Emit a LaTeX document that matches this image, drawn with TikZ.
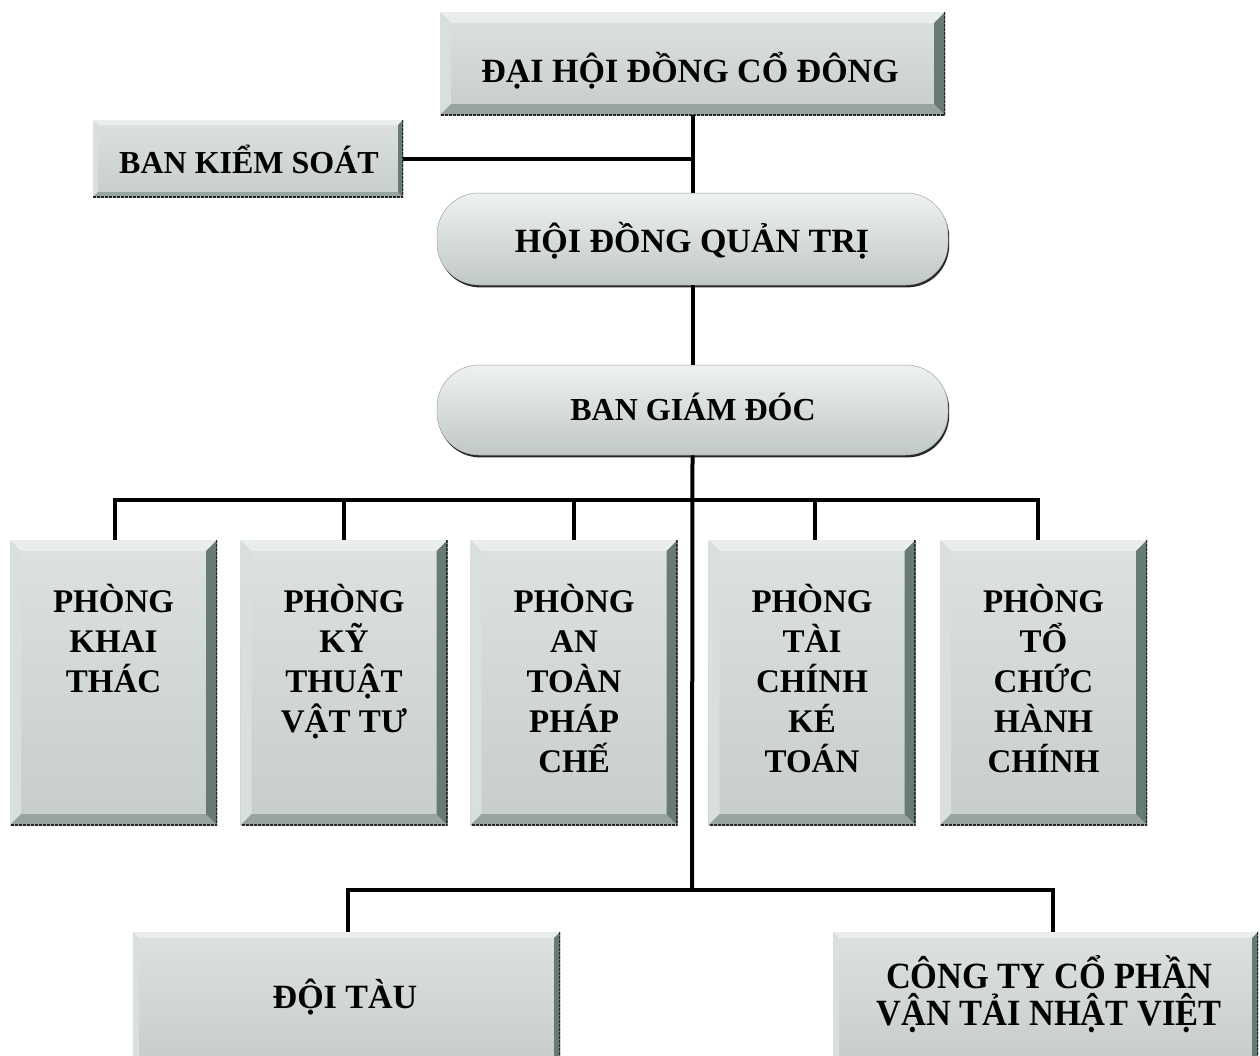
\documentclass[tikz,border=0pt]{standalone}
\usepackage{fontspec}
\setmainfont{Liberation Serif}
\usetikzlibrary{shadows}
\definecolor{bxtop}{HTML}{DDE2E1}
\definecolor{bxbot}{HTML}{C6CDCC}
\definecolor{bvT}{HTML}{E9EDEC}
\definecolor{bvL}{HTML}{D9DFDE}
\definecolor{bvR}{HTML}{687A76}
\definecolor{bvB}{HTML}{97A4A1}
\definecolor{pltop}{HTML}{EEF1F1}
\definecolor{plbot}{HTML}{C0C8C7}
\tikzset{
  bevbox/.style={rectangle, inner sep=0pt, draw=none, top color=bxtop, bottom color=bxbot,
    path picture={
      \coordinate (pnw) at (path picture bounding box.north west);
      \coordinate (pne) at (path picture bounding box.north east);
      \coordinate (psw) at (path picture bounding box.south west);
      \coordinate (pse) at (path picture bounding box.south east);
      \fill[bvT] (pnw) -- (pne) -- ([xshift=-#1,yshift=-#1]pne) -- ([xshift=#1,yshift=-#1]pnw) -- cycle;
      \fill[bvL] (pnw) -- (psw) -- ([xshift=#1,yshift=#1]psw) -- ([xshift=#1,yshift=-#1]pnw) -- cycle;
      \fill[bvB] (psw) -- (pse) -- ([xshift=-#1,yshift=#1]pse) -- ([xshift=#1,yshift=#1]psw) -- cycle;
      \fill[bvR] (pne) -- (pse) -- ([xshift=-#1,yshift=#1]pse) -- ([xshift=-#1,yshift=-#1]pne) -- cycle;
      \draw[black!85, line width=3pt, densely dotted] (pne) -- (pse) -- (psw);
    }},
  bevbox/.default=11pt,
  pill/.style={rectangle, rounded corners=42pt, inner sep=0pt, top color=pltop, bottom color=plbot,
    draw=black!35, line width=0.5pt,
    drop shadow={shadow xshift=1.2pt, shadow yshift=-2.4pt, opacity=1, fill=black!85}},
  txt/.style={inner sep=0pt, font=\bfseries\fontsize{33}{40}\selectfont, align=center, text=black},
  conn/.style={line width=4pt, black},
  dept/.style={bevbox, minimum width=207pt, minimum height=285pt}
}
\begin{document}
\begin{tikzpicture}[x=1pt,y=-1pt]
\fill[white] (0,0) rectangle (1260,1055);
\useasboundingbox (0,0) rectangle (1260,1055);

% top
\node[bevbox, minimum width=505pt, minimum height=103pt] (dh) at (692.5,63.5) {};
\node[txt, anchor=base, font=\bfseries\fontsize{34}{40}\selectfont] (dht) at (690,82) {ĐẠI HỘI ĐỒNG CỔ ĐÔNG};

\node[bevbox=5pt, minimum width=310pt, minimum height=77pt] (bks) at (248,158.5) {};
\node[txt, anchor=base, font=\bfseries\fontsize{32}{38}\selectfont] (bkst) at (249,173) {BAN KIỂM SOÁT};

\node[pill, minimum width=511pt, minimum height=92pt] (hd) at (692.5,239) {};
\node[txt, anchor=base, font=\bfseries\fontsize{34}{40}\selectfont] (hdt) at (692,252) {HỘI ĐỒNG QUẢN TRỊ};

\node[pill, minimum width=511pt, minimum height=90pt] (bg) at (692.5,410) {};
\node[txt, anchor=base, font=\bfseries\fontsize{32}{40}\selectfont] (bgt) at (693,420) {BAN GIÁM ĐÓC};

% departments (base anchor = baseline of last line; first line baseline at 612, pitch 40)
\node[dept] (d1) at (113.5,682.5) {};
\node[dept] (d2) at (344,682.5) {};
\node[dept] (d3) at (574,682.5) {};
\node[dept] (d4) at (812,682.5) {};
\node[dept] (d5) at (1043.5,682.5) {};
\node[txt, anchor=base] (d1t) at (113.5,692) {PHÒNG\\KHAI\\THÁC};
\node[txt, anchor=base] (d2t) at (344,732) {PHÒNG\\KỸ\\THUẬT\\VẬT TƯ};
\node[txt, anchor=base] (d3t) at (574,772) {PHÒNG\\AN\\TOÀN\\PHÁP\\CHẾ};
\node[txt, anchor=base] (d4t) at (812,772) {PHÒNG\\TÀI\\CHÍNH\\KÉ\\TOÁN};
\node[txt, anchor=base] (d5t) at (1043.5,772) {PHÒNG\\TỔ\\CHỨC\\HÀNH\\CHÍNH};

% bottom
\node[bevbox=6pt, minimum width=427pt, minimum height=130pt] (dt) at (346.5,997) {};
\node[txt, anchor=base, font=\bfseries\fontsize{34}{40}\selectfont] (dtt) at (345,1008) {ĐỘI TÀU};
\node[bevbox=6pt, minimum width=425pt, minimum height=130pt] (ct) at (1045.5,997) {};
\node[txt, anchor=base, font=\bfseries\fontsize{37}{37}\selectfont] (ctt) at (1049,1025)
  {\scalebox{0.93}[1]{CÔNG TY CỔ PHẦN}\\\scalebox{0.93}[1]{VẬN TẢI NHẬT VIỆT}};

% connectors
\coordinate (bus1) at (692,500);
\coordinate (bus2) at (692,890);
\draw[conn] (dh.south) -- (hd.north);
\draw[conn] (bks.east) -- (bks.east -| dh.south);
\draw[conn] (hd.south) -- (bg.north);
\draw[conn] (bg.south) -- (bus2);
\draw[conn] ([xshift=1.5pt]d1.north) |- (bus1);
\draw[conn] ([xshift=-5.5pt]d5.north) |- (bus1);
\draw[conn] (d2.north) -- (d2.north |- bus1);
\draw[conn] (d3.north) -- (d3.north |- bus1);
\draw[conn] ([xshift=3pt]d4.north) -- ([xshift=3pt]d4.north |- bus1);
\draw[conn] ([xshift=1.5pt]dt.north) |- (bus2) -| ([xshift=7pt]ct.north);
\end{tikzpicture}
\end{document}
